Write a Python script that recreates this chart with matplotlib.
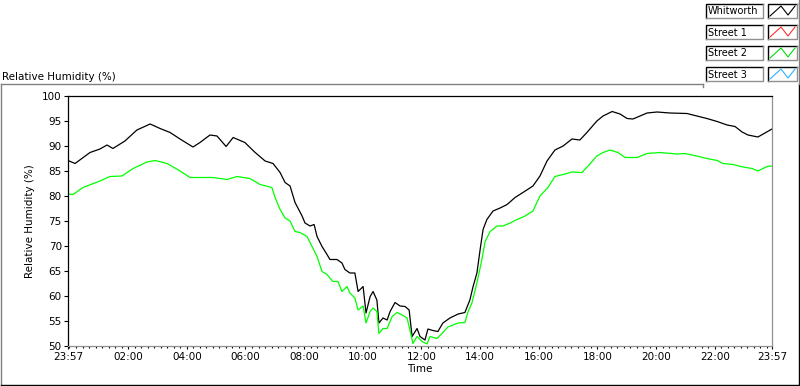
import numpy as np
import matplotlib
matplotlib.use("Agg")
import matplotlib.pyplot as plt
from matplotlib.lines import Line2D

plt.rcParams["font.family"] = ["DejaVu Sans"]
plt.rcParams["font.size"] = 7

# hours since 23:57 (start of the record)
whit_t = [0.0, 0.24, 0.75, 1.09, 1.33, 1.53, 1.94, 2.35, 2.80, 3.14, 3.48, 3.82,
          4.26, 4.50, 4.84, 5.08, 5.39, 5.63, 6.03, 6.38, 6.72, 6.99, 7.23, 7.40,
          7.57, 7.74, 7.98, 8.08, 8.25, 8.39, 8.49, 8.66, 8.83, 8.93, 9.17, 9.34,
          9.44, 9.61, 9.78, 9.89, 10.06, 10.16, 10.30, 10.40, 10.53, 10.60, 10.74,
          10.88, 10.98, 11.15, 11.32, 11.49, 11.63, 11.73, 11.90, 12.00, 12.17,
          12.27, 12.44, 12.61, 12.78, 13.02, 13.30, 13.53, 13.70, 13.81, 13.94,
          14.05, 14.15, 14.28, 14.49, 14.73, 14.97, 15.24, 15.51, 15.85, 16.09,
          16.33, 16.60, 16.88, 17.18, 17.45, 17.69, 18.03, 18.24, 18.55, 18.82,
          19.06, 19.26, 19.74, 20.08, 20.52, 21.10, 21.44, 21.78, 22.13, 22.47,
          22.74, 22.98, 23.18, 23.52, 23.76, 24.00]
whit_rh = [87.1, 86.5, 88.7, 89.4, 90.2, 89.5, 91.0, 93.2, 94.4, 93.5, 92.7, 91.4,
           89.8, 90.7, 92.2, 92.0, 89.9, 91.7, 90.7, 88.7, 87.0, 86.5, 84.7, 82.7,
           82.0, 78.7, 76.0, 74.6, 74.0, 74.3, 71.9, 69.9, 68.3, 67.3, 67.3, 66.6,
           65.3, 64.6, 64.6, 60.9, 61.9, 56.6, 59.9, 60.9, 59.2, 54.6, 55.6,
           55.2, 56.9, 58.7, 58.0, 57.9, 57.2, 51.9, 53.5, 51.9, 51.2,
           53.4, 53.1, 52.9, 54.6, 55.6, 56.4, 56.7, 59.2, 61.9, 64.6,
           69.3, 73.3, 75.3, 77.0, 77.6, 78.3, 79.7, 80.7, 82.0, 84.0,
           87.0, 89.2, 90.0, 91.4, 91.2, 92.7, 95.0, 96.0, 96.9, 96.4,
           95.5, 95.4, 96.6, 96.8, 96.6, 96.5, 96.0, 95.5, 94.9, 94.2,
           93.9, 92.8, 92.2, 91.8, 92.6, 93.4]

st2_t = [0.0, 0.17, 0.51, 1.09, 1.43, 1.84, 2.22, 2.69, 2.97, 3.38, 3.82, 4.16,
         4.50, 4.94, 5.42, 5.76, 6.20, 6.55, 6.95, 7.06, 7.23, 7.40, 7.57, 7.74,
         7.91, 8.15, 8.32, 8.49, 8.66, 8.83, 9.03, 9.20, 9.34, 9.51, 9.61, 9.78,
         9.89, 10.06, 10.16, 10.30, 10.40, 10.53, 10.60, 10.74, 10.88, 11.05,
         11.22, 11.39, 11.56, 11.63, 11.76, 11.90, 12.07, 12.24, 12.34, 12.58,
         12.75, 12.95, 13.30, 13.53, 13.64, 13.77, 13.94, 14.11, 14.22, 14.39,
         14.63, 14.83, 15.07, 15.31, 15.58, 15.85, 16.09, 16.36, 16.60, 16.88,
         17.18, 17.52, 17.73, 18.03, 18.24, 18.48, 18.75, 18.99, 19.40, 19.74,
         20.18, 20.76, 21.03, 21.44, 21.78, 22.13, 22.33, 22.67, 23.01, 23.32,
         23.52, 23.83, 24.00]
st2_rh = [80.4, 80.3, 81.7, 83.0, 83.9, 84.0, 85.5, 86.8, 87.1, 86.5, 85.0, 83.7,
          83.7, 83.7, 83.3, 83.9, 83.5, 82.3, 81.7, 79.7, 77.3, 75.6, 75.0, 72.9,
          72.7, 71.9, 69.9, 67.9, 64.9, 64.3, 62.9, 62.9, 60.9, 61.9, 60.6, 59.6,
          57.2, 58.0, 54.6, 56.9, 57.6, 56.9, 52.5, 53.5, 53.5, 55.9,
          56.7, 56.2, 55.6, 53.9, 50.5, 51.9, 50.9, 50.4, 51.9, 51.5,
          52.5, 53.8, 54.6, 54.7, 56.9, 58.6, 62.6, 67.3, 70.9, 72.9,
          74.0, 74.0, 74.6, 75.3, 76.0, 77.0, 80.0, 81.7, 83.9, 84.3,
          84.8, 84.7, 86.0, 88.0, 88.7, 89.2, 88.7, 87.7, 87.7, 88.5,
          88.7, 88.4, 88.5, 88.0, 87.5, 87.1, 86.5, 86.3, 85.8, 85.5,
          85.0, 85.9, 86.0]

tick_labels = ["23:57", "02:00", "04:00", "06:00", "08:00", "10:00", "12:00",
               "14:00", "16:00", "18:00", "20:00", "22:00", "23:57"]
legend_names = ["Whitworth", "Street 1", "Street 2", "Street 3"]
legend_colors = ["black", "#ff3030", "#00e000", "#30b0ff"]

W, H = 800, 386
fig = plt.figure(figsize=(8, 3.86), dpi=100)


def px(x, y):
    return x / W, 1 - y / H


def fline(xs, ys, color, lw=1.0):
    fx = [x / W for x in xs]
    fy = [1 - y / H for y in ys]
    fig.add_artist(Line2D(fx, fy, color=color, lw=lw, transform=fig.transFigure))


# outer panel frame (sunken look)
fline([0.5, 0.5], [84, 384.5], "#808080")
fline([0.5, 703], [84, 84], "#808080")
fline([703, 703], [84, 87], "#808080")
fline([0.5, 798.5], [384.5, 384.5], "black")
fline([798.5, 798.5], [84, 384.5], "black")
fline([798.5, 798.5], [0, 84], "#808080")

ax = fig.add_axes([68 / W, 1 - 346 / H, (772 - 68) / W, (346 - 96) / H])
ax.plot(whit_t, whit_rh, color="black", lw=0.9)
ax.plot(st2_t, st2_rh, color="#00ff00", lw=0.9)

ax.set_xlim(0, 24)
ax.set_ylim(50, 100)
ax.set_yticks(np.arange(50, 101, 5))
major = [0.0] + [2.05 + 2 * k for k in range(11)] + [24.0]
ax.set_xticks(major)
ax.set_xticklabels(tick_labels)
minor = [0.05 + k * 2 / 9 for k in range(108) if 0.05 + k * 2 / 9 < 24]
ax.set_xticks(minor, minor=True)
ax.tick_params(axis="y", direction="out", length=3, width=0.8, pad=1.5, labelsize=7.5)
ax.tick_params(axis="x", which="major", direction="out", length=2.5, width=0.8,
               pad=2, labelsize=7.5)
ax.tick_params(axis="x", which="minor", direction="out", length=1.3, width=0.8)

for s in ("left", "top"):
    ax.spines[s].set_color("black")
for s in ("right", "bottom"):
    ax.spines[s].set_color("#909090")
for s in ax.spines.values():
    s.set_linewidth(0.9)

ax.set_ylabel("Relative Humidity (%)", fontsize=7.5, labelpad=5)
ax.set_xlabel("Time", fontsize=7.5, labelpad=1)
fig.text(*px(2, 77), "Relative Humidity (%)", fontsize=7.5, va="center", ha="left")

# legend boxes
for i, (name, col) in enumerate(zip(legend_names, legend_colors)):
    y0 = 4 + i * 21
    y1 = y0 + 14
    # name box
    fline([706, 706, 763], [y1, y0, y0], "black")
    fline([763, 763, 706], [y0, y1, y1], "#909090")
    fig.text(*px(708, (y0 + y1) / 2 + 0.5), name, fontsize=7, va="center", ha="left")
    # sample box
    fline([768, 768, 797], [y1, y0, y0], "black")
    fline([797, 797, 768], [y0, y1, y1], "#909090")
    fline([770, 781, 788, 795], [y1 - 2, y0 + 2, y1 - 3, y0 + 2], col, lw=0.8)

fig.savefig("out.png", dpi=100)
